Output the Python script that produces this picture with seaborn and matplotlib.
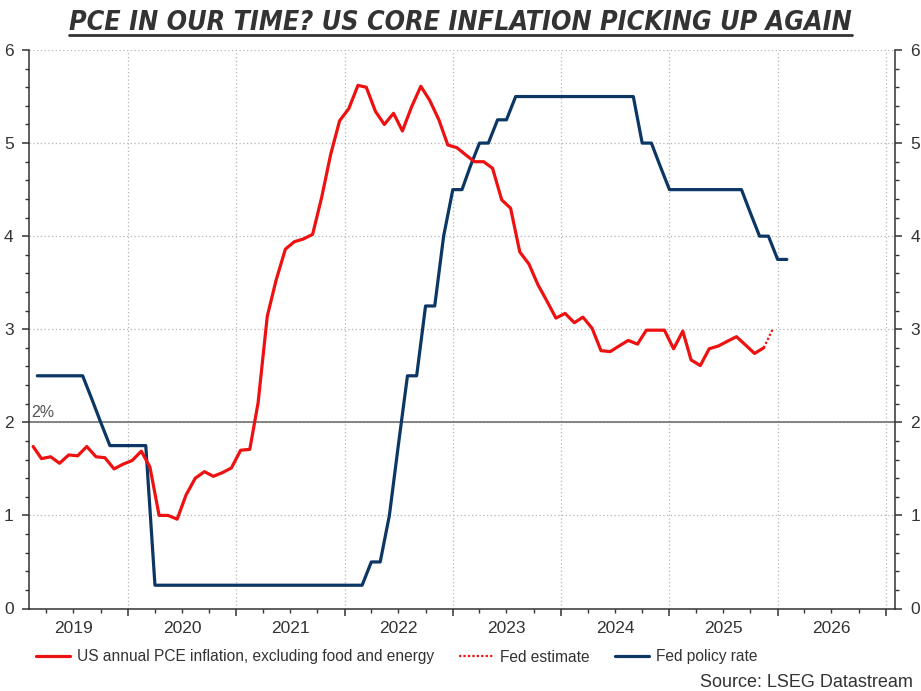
import pandas as pd
import matplotlib
matplotlib.use('Agg')
import matplotlib.pyplot as plt
import matplotlib.dates as mdates
from matplotlib import font_manager
from matplotlib.ticker import MultipleLocator, FuncFormatter, NullFormatter
from matplotlib.lines import Line2D
import seaborn as sns

# core PCE y/y, monthly from Feb 2019 to Nov 2025
pce_start = '2019-02-01'
pce_values = [1.74, 1.61, 1.63, 1.56, 1.65, 1.64, 1.74, 1.63, 1.62, 1.50, 1.55,
              1.59, 1.69, 1.52, 1.00, 1.00, 0.96, 1.22, 1.40, 1.47, 1.42, 1.46,
              1.51, 1.70, 1.71, 2.21, 3.14, 3.53, 3.86, 3.94, 3.97, 4.02, 4.41,
              4.88, 5.24, 5.37, 5.62, 5.60, 5.34, 5.20, 5.32, 5.13, 5.39, 5.61,
              5.46, 5.25, 4.98, 4.95, 4.87, 4.80, 4.80, 4.73, 4.39, 4.30, 3.83,
              3.70, 3.48, 3.30, 3.12, 3.17, 3.07, 3.13, 3.01, 2.77, 2.76, 2.82,
              2.88, 2.84, 2.99, 2.99, 2.99, 2.79, 2.98, 2.67, 2.61, 2.79, 2.82,
              2.87, 2.92, 2.83, 2.74, 2.80]

# Fed estimate (dotted bit at the end)
est_dates = ['2025-11-15', '2025-12-15']
est_values = [2.80, 3.00]

# Fed funds upper bound, month starts Mar 2019 - Feb 2026
fed_start = '2019-03-01'
fed_values = [2.5, 2.5, 2.5, 2.5, 2.5, 2.5, 2.25, 2.0, 1.75, 1.75,
              1.75, 1.75, 1.75, 0.25, 0.25, 0.25, 0.25, 0.25, 0.25, 0.25, 0.25, 0.25,
              0.25, 0.25, 0.25, 0.25, 0.25, 0.25, 0.25, 0.25, 0.25, 0.25, 0.25, 0.25,
              0.25, 0.25, 0.25, 0.5, 0.5, 1.0, 1.75, 2.5, 2.5, 3.25, 3.25, 4.0,
              4.5, 4.5, 4.75, 5.0, 5.0, 5.25, 5.25, 5.5, 5.5, 5.5, 5.5, 5.5,
              5.5, 5.5, 5.5, 5.5, 5.5, 5.5, 5.5, 5.5, 5.5, 5.0, 5.0, 4.75,
              4.5, 4.5, 4.5, 4.5, 4.5, 4.5, 4.5, 4.5, 4.5, 4.25, 4.0, 4.0,
              3.75, 3.75]

labels = ['US annual PCE inflation, excluding food and energy', 'Fed estimate', 'Fed policy rate']
title = 'PCE IN OUR TIME? US CORE INFLATION PICKING UP AGAIN'
source = 'Source: LSEG Datastream'

red = '#ee1111'
navy = '#0c3663'
txt = '#333333'

pce = pd.DataFrame({'date': pd.date_range(pce_start, periods=len(pce_values), freq='MS') + pd.Timedelta(days=14),
                    'value': pce_values})
est = pd.DataFrame({'date': pd.to_datetime(est_dates), 'value': est_values})
fed = pd.DataFrame({'date': pd.date_range(fed_start, periods=len(fed_values), freq='MS'),
                    'value': fed_values})

sns.set_style('white')
plt.rcParams['font.family'] = ['Liberation Sans', 'DejaVu Sans']

fig = plt.figure(figsize=(9.21, 6.91), dpi=100)
ax = fig.add_axes([29 / 921, 1 - 608.5 / 691, (895 - 29) / 921, (608.5 - 50) / 691])

sns.lineplot(data=fed, x='date', y='value', ax=ax, color=navy, lw=2.3, label=labels[2], zorder=3)
sns.lineplot(data=pce, x='date', y='value', ax=ax, color=red, lw=2.3, label=labels[0], zorder=4)
sns.lineplot(data=est, x='date', y='value', ax=ax, color=red, lw=1.6, ls=(0, (1, 1)), label=labels[1], zorder=4)

ax.axhline(2, color='#7a7a7a', lw=1.3, zorder=2)
ax.text(pd.Timestamp('2019-02-08'), 2.03, '2%', color='#555555', fontsize=11.5, va='bottom', ha='left')

ax.set_xlim(pd.Timestamp('2019-02-01'), pd.Timestamp('2027-02-01'))
ax.set_ylim(0, 6)
ax.set_xlabel('')
ax.set_ylabel('')

ax.xaxis.set_major_locator(mdates.YearLocator())
ax.xaxis.set_major_formatter(NullFormatter())
ax.xaxis.set_minor_locator(mdates.MonthLocator(bymonth=[4, 7, 10]))
ax.xaxis.set_minor_formatter(FuncFormatter(
    lambda v, pos: str(mdates.num2date(v).year) if mdates.num2date(v).month == 7 else ''))
ax.yaxis.set_major_locator(MultipleLocator(1))
ax.yaxis.set_minor_locator(MultipleLocator(0.2))

ax.tick_params(axis='x', which='major', direction='out', length=5, width=1.1, color='#333333', bottom=True)
ax.tick_params(axis='x', which='minor', direction='out', length=3, width=1, color='#333333',
               bottom=True, labelsize=12.5, labelcolor=txt, pad=6)
ax.tick_params(axis='y', which='major', direction='out', length=5, width=1.1, color='#333333',
               left=True, right=True, labelleft=True, labelright=True, labelsize=12.5, labelcolor=txt, pad=6)
ax.tick_params(axis='y', which='minor', direction='out', length=3, width=1, color='#333333',
               left=True, right=True)

ax.grid(True, which='major', ls=(0, (1, 2)), color='#b5b5b5', lw=0.9)
for s in ['left', 'right', 'bottom']:
    ax.spines[s].set_color('#333333')
    ax.spines[s].set_linewidth(1.1)
ax.spines['top'].set_visible(False)

handles, labs = ax.get_legend_handles_labels()
order = [labs.index(l) for l in labels]
ax.legend([handles[i] for i in order], [labs[i] for i in order],
          loc='center left', bbox_to_anchor=(36 / 921, 1 - 657 / 691), bbox_transform=fig.transFigure,
          ncol=3, frameon=False, fontsize=11.2, handlelength=2.2, handletextpad=0.45,
          columnspacing=1.6, borderpad=0, borderaxespad=0, labelcolor=txt)

fig.text(913 / 921, 1 - 687 / 691, source, ha='right', va='baseline', fontsize=13, color=txt)


# pick a narrow font for the title if one is there
def pick_title_font():
    tries = [dict(family='Liberation Sans Narrow'),
             dict(family='DejaVu Sans', stretch='condensed'),
             dict(family='Liberation Sans')]
    for kw in tries:
        fp = font_manager.FontProperties(weight='bold', style='italic', **kw)
        try:
            path = font_manager.findfont(fp, fallback_to_default=False)
        except Exception:
            continue
        if kw.get('stretch') and 'Condensed' not in path:
            continue
        return fp
    return font_manager.FontProperties(family='Liberation Sans', weight='bold', style='italic')


tp = pick_title_font()
tp.set_size(24)
t = fig.text(0.5, 1 - 30 / 691, title, ha='center', va='baseline', color=txt, fontproperties=tp)
fig.canvas.draw()
w = t.get_window_extent().width
if w > 785:
    tp.set_size(24 * 785 / w)
    t.set_fontproperties(tp)
    fig.canvas.draw()
bb = t.get_window_extent()
# underline under the title
fig.add_artist(Line2D([bb.x0 / 921, bb.x1 / 921], [1 - 35 / 691, 1 - 35 / 691],
                      transform=fig.transFigure, color=txt, lw=2))

fig.savefig('out.png', dpi=100)
